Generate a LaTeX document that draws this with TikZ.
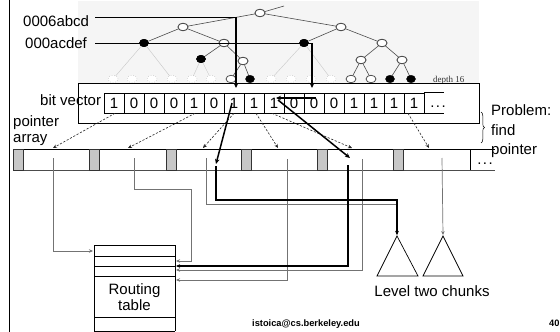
\documentclass[tikz,border=0pt]{standalone}
\usepackage{fontspec}
\setmainfont{Liberation Sans}
\newfontfamily\smallserif{Liberation Serif}
\usetikzlibrary{arrows.meta,decorations.pathreplacing,shapes.geometric}
\begin{document}
\begin{tikzpicture}[x=1pt,y=-1pt,
  lbl/.style={font=\fontsize{15}{17}\selectfont, inner sep=0pt},
  cell/.style={draw=black, line width=0.6pt, minimum width=20pt, minimum height=20pt, inner sep=0pt, font=\fontsize{15}{17}\selectfont},
  gcell/.style={draw=black!80, fill=black!22, line width=0.6pt, minimum width=10pt, minimum height=21pt, inner sep=0pt},
  grayline/.style={draw=black!55, line width=0.7pt},
  thickline/.style={draw=black, line width=1.5pt},
  dashline/.style={draw=black!85, line width=0.6pt, dash pattern=on 2.2pt off 1.6pt},
  tip/.style={-{Stealth[length=4pt,width=3.5pt]}},
  bigtip/.style={-{Stealth[length=5pt,width=4.5pt]}},
  tedge/.style={draw=black!70, line width=0.6pt},
  fedge/.style={draw=black!22, line width=0.4pt},
  tnode/.style={ellipse, draw=black!75, fill=white, minimum width=10pt, minimum height=7.5pt, inner sep=0pt, line width=0.7pt},
  fnode/.style={ellipse, draw=black, fill=black, minimum width=9pt, minimum height=7.5pt, inner sep=0pt},
  lnode/.style={ellipse, draw=black!30, dotted, fill=white, minimum width=10pt, minimum height=7.5pt, inner sep=0pt, line width=0.5pt},
  tri/.style={draw=black, line width=0.7pt, fill=white},
]
\useasboundingbox (0,0) rectangle (560,332);
% left border line
\draw[line width=1.8pt] (9.5,0) -- (9.5,332);

% tree background
\fill[black!4] (78,1) rectangle (479,83);

% tree nodes
\node[tnode] (r) at (260,13) {};
\coordinate (rp) at (284,6);
\node[tnode] (a) at (183,27) {};
\node[tnode] (b) at (341,27) {};
\node[fnode] (aa) at (144,43) {};
\node[tnode] (ab) at (224,43) {};
\node[fnode] (ba) at (304,43) {};
\node[tnode] (bb) at (382,43) {};
\node[fnode] (aba) at (201,59) {};
\node[tnode] (abb) at (243,61) {};
\node[tnode] (bba) at (361,60) {};
\node[tnode] (bbb) at (402,60) {};
\foreach \x [count=\i] in {113,132,152,172,192,211,231,250,271,291,311,331,351,371,390,411}
  \coordinate (l\i) at (\x,79);
% edges
\draw[tedge] (r) -- (rp);
\draw[tedge] (r) -- (a); \draw[tedge] (r) -- (b);
\draw[tedge] (a) -- (aa); \draw[tedge] (a) -- (ab);
\draw[tedge] (b) -- (ba); \draw[tedge] (b) -- (bb);
\draw[tedge] (ab) -- (aba); \draw[tedge] (ab) -- (abb);
\draw[tedge] (bb) -- (bba); \draw[tedge] (bb) -- (bbb);
\draw[tedge] (abb) -- (l7); \draw[tedge] (abb) -- (l8);
\draw[tedge] (bba) -- (l13); \draw[tedge] (bba) -- (l14);
\draw[tedge] (bbb) -- (l15); \draw[tedge] (bbb) -- (l16);
\draw[fedge] (aa) -- (l1); \draw[fedge] (aa) -- (l4);
\draw[fedge] (aba) -- (l5); \draw[fedge] (aba) -- (l6);
\draw[fedge] (ba) -- (l9); \draw[fedge] (ba) -- (l12);
% redraw nodes over edges
\node[tnode] at (r) {};
\node[tnode] at (a) {}; \node[tnode] at (b) {};
\node[fnode] at (aa) {}; \node[tnode] at (ab) {};
\node[fnode] at (ba) {}; \node[tnode] at (bb) {};
\node[fnode] at (aba) {}; \node[tnode] at (abb) {};
\node[tnode] at (bba) {}; \node[tnode] at (bbb) {};
\foreach \i in {1,2,3,4,5,6,9,10,11,12} \node[lnode] at (l\i) {};
\foreach \i in {7,13,14} \node[tnode] at (l\i) {};
\foreach \i in {8,15,16} \node[fnode] at (l\i) {};
\node[font=\smallserif\fontsize{9}{10}\selectfont, text=black!80, anchor=base west, inner sep=0pt] (dep) at (433,82) {depth 16};

% big box around bit vector
\draw[line width=0.6pt] (78,83) rectangle (479,123);

% bit vector
\foreach \b [count=\i] in {1,0,0,0,1,0,1,1,1,0,0,0,1,1,1,1}
  \node[cell] (c\i) at ({94+20*\i},103) {\b};
\draw[line width=0.6pt] (c16.north east) -- ++(20,0);
\draw[line width=0.6pt] (c16.south east) -- ++(20,0);
\node[lbl] (dots1) at (438,106.5) {.\kern1.5pt.\kern1.5pt.};
\node[lbl, anchor=base west] (bv) at (40,105) {bit vector};

% labels with thick arrows from left
\node[lbl, anchor=base west] (lab1) at (23,26.5) {0006abcd};
\node[lbl, anchor=base west] (lab2) at (25,48.5) {000acdef};
\coordinate (k1) at (95,17.3);
\coordinate (k1e) at (236,88);
\coordinate (k2) at (95,43.3);
\coordinate (k2e) at (312,88);
\draw[thickline, bigtip] (k1) -| (k1e);
\draw[thickline, bigtip] (k2) -| (k2e);
\coordinate (h1) at (316,98);
\coordinate (h2) at (276,98);
\draw[thickline, bigtip] (h1) -- (h2);

% pointer array
\node[lbl, anchor=base west] (pt) at (13,126) {pointer};
\node[lbl, anchor=base west] (ar) at (13,142) {array};
\draw[line width=0.6pt] (13,149) -- (495,149);
\draw[draw=black!70, line width=1pt] (13,170) -- (495,170);
\draw[line width=0.6pt] (470,149) -- (470,170);
\node[lbl] (dots2) at (485,164) {.\kern1.5pt.\kern1.5pt.};
\foreach \x [count=\i] in {18,94,171,246,322,398}
  \node[gcell] (g\i) at (\x,159.5) {};

% brace and problem text
\draw[decorate, decoration={brace, amplitude=3.5pt}, line width=0.5pt] (481,112) -- (481,143);
\node[lbl, anchor=base west] (p1) at (491,115.5) {Problem:};
\node[lbl, anchor=base west] (p2) at (491,135) {find};
\node[lbl, anchor=base west] (p3) at (491,154.5) {pointer};

% dashed arrows from bit vector to pointer array
\coordinate (e1) at (53,148); \coordinate (e2) at (128,148); \coordinate (e3) at (203,148);
\coordinate (e4) at (278,148); \coordinate (e5) at (352,148); \coordinate (e6) at (429,148);
\draw[dashline, tip] (c1.south) ++(1,0) -- (e1);
\draw[dashline, tip] (c5.south) ++(1,0) -- (e2);
\draw[dashline, tip] (c7.south) -- (e3);
\draw[dashline, tip] (c8.south) ++(2,0) -- (e4);
\draw[dashline, tip] (c9.south) ++(-2,0) -- (e5);
\draw[dashline, tip] (c16.south) ++(-6,0) -- (e6);

% thick arrows to pointer array
\coordinate (t1s) at (232,103); \coordinate (t1e) at (216,164);
\coordinate (t2s) at (278,100); \coordinate (t2e) at (350,158);
\draw[thickline, bigtip] (t1s) -- (t1e);
\draw[thickline, bigtip] (t2s) -- (t2e);

% routing table
\draw[line width=0.6pt] (94,331) -- (94,245) -- (175,245) -- (175,331);
\draw[line width=0.6pt] (94,331) -- (175,331);
\draw[line width=0.6pt] (94,256) -- (175,256);
\draw[line width=0.9pt] (94,266) -- (175,266);
\draw[line width=0.6pt] (94,276) -- (175,276);
\draw[line width=0.6pt] (94,317) -- (175,317);
\node[lbl, align=center] (rt) at (134.5,297) {Routing\\[-1pt]table};
\coordinate (rtL) at (93,251);
\coordinate (rt1) at (176,261); \coordinate (rt2) at (176,266);
\coordinate (rt3) at (176,270); \coordinate (rt4) at (176,280);

% level two chunks
\draw[tri] (377,276) -- (397,236) -- (418,276) -- cycle;
\draw[tri] (423,276) -- (443,236) -- (463,276) -- cycle;
\coordinate (tr1) at (397,235); \coordinate (tr2) at (443,235);
\node[lbl] (lt) at (432,291) {Level two chunks};

% connector lines from pointer array
\draw[grayline, tip] (53,158) -- (53,251) -- (rtL);
\draw[grayline, tip] (134,158) -- (134,189) -- (191,189) -- (191,261) -- (rt1);
\draw[grayline, tip] (206,158) -- (206,204) -- (397,204) -- (tr1);
\draw[grayline, tip] (287,159) -- (287,280) -- (rt4);
\draw[grayline, tip] (362,159) -- (362,270) -- (rt3);
\draw[grayline, tip] (442,158) -- (tr2);
\draw[thickline, tip] (216,166) -- (216,200) -- (397,200) -- (tr1);
\draw[thickline, tip] (348,165) -- (348,266) -- (rt2);

% footer
\node[font=\bfseries\fontsize{9.3}{10}\selectfont, anchor=base, inner sep=0pt] (ft) at (306,326) {istoica@cs.berkeley.edu};
\node[font=\bfseries\fontsize{9.3}{10}\selectfont, anchor=base west, inner sep=0pt] (pg) at (549,326) {40};
\end{tikzpicture}
\end{document}
